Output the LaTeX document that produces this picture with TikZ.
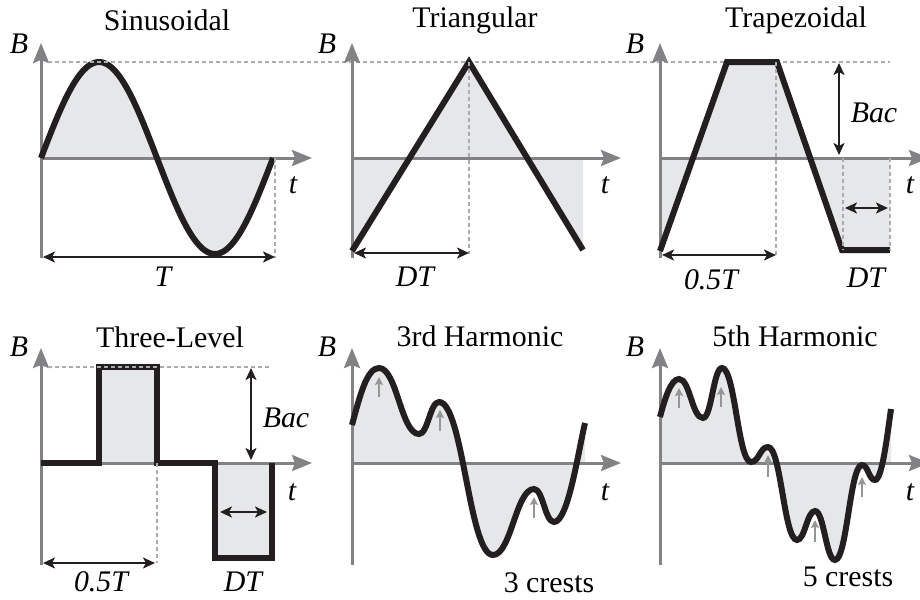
\documentclass[tikz,border=0pt]{standalone}
\usepackage{fontspec}
\setmainfont{Liberation Serif}[Ligatures=TeX]
\newfontfamily\timesface{Liberation Serif}
\usetikzlibrary{arrows.meta}
\definecolor{ink}{RGB}{35,31,32}
\definecolor{axgray}{RGB}{130,130,132}
\definecolor{dotgray}{RGB}{172,172,174}
\definecolor{areagray}{RGB}{230,231,233}
\newcommand{\harmthree}{.. controls +(8,30) and +(-12,0) .. (27,95)
  .. controls +(18,0) and +(-18,0) .. (67,29)
  .. controls +(9,0) and +(-9,0) .. (87,61)
  .. controls +(24,0) and +(-24,0) .. (141,-92)
  .. controls +(18,0) and +(-18,0) .. (182,-26)
  .. controls +(9,0) and +(-9,0) .. (202,-59)
  .. controls +(14,0) and +(-7,-30) .. (233,40)}
\newcommand{\harmfive}{.. controls +(5,19) and +(-8,0) .. (19,84)
  .. controls +(11,0) and +(-11,0) .. (43,45)
  .. controls +(8.5,0) and +(-8.5,0) .. (62,95)
  .. controls +(13,0) and +(-13,0) .. (91,1)
  .. controls +(8,0) and +(-8,0) .. (108,16)
  .. controls +(13,0) and +(-13,0) .. (137,-77)
  .. controls +(8,0) and +(-8,0) .. (155,-48)
  .. controls +(9,0) and +(-9,0) .. (175,-97)
  .. controls +(12,0) and +(-12,0) .. (202,-2)
  .. controls +(6,0) and +(-6,0) .. (215,-17)
  .. controls +(7,0) and +(-4,-28) .. (231,54)}
\begin{document}
\begin{tikzpicture}[x=0.2mm, y=0.2mm,
    every node/.style={inner sep=0pt, font=\timesface\fontsize{17}{20}\selectfont},
    varlabel/.style={font=\timesface\fontsize{17}{20}\selectfont\itshape},
    axisarrow/.style={draw=axgray, line width=0.6mm, -{Stealth[length=4mm, width=3.2mm, inset=0.6mm]}},
    waveline/.style={draw=ink, line width=1.2mm},
    guideline/.style={draw=dotgray, line width=0.5mm, dash pattern=on 0.8mm off 0.6mm},
    dimarrow/.style={draw=ink, line width=0.45mm, {Stealth[length=2.4mm, width=2.2mm, inset=0.6mm]}-{Stealth[length=2.4mm, width=2.2mm, inset=0.6mm]}},
    crestarrow/.style={draw=axgray!85, line width=0.4mm, -{Stealth[length=1.6mm, width=1.6mm, inset=0.3mm]}},
    areafill/.style={fill=areagray}]
    \useasboundingbox (0,0) rectangle (920,599);

    \begin{scope}[shift={(41,441)}]
        \fill[areafill] (0,0) -- plot[domain=0:232, samples=90] (\x,{96*sin(\x/232*360)}) -- cycle;
        \draw[axisarrow] (0,-100) -- (0,115);
        \draw[axisarrow] (0,0) -- (271,0);
        \draw[waveline] plot[domain=0:232, samples=90, smooth] (\x,{96*sin(\x/232*360)});
        \draw[guideline] (7,96) -- (849,96);
        \draw[guideline] (234,0) -- (234,-100);
        \draw[dimarrow] (2,-99) -- (234,-99);
        \node (sinTitle) at (126,138) {Sinusoidal};
        \node[varlabel] (sinB) at (-22,114) {B};
        \node[varlabel] (sint) at (252,-27) {t};
        \node[varlabel] (sinT) at (122,-119) {T};
    \end{scope}

    \begin{scope}[shift={(352,441)}]
        \fill[areafill] (0,0) -- (0,-93) -- (117,96) -- (231,-92) -- (231,0) -- cycle;
        \draw[axisarrow] (0,-100) -- (0,115);
        \draw[axisarrow] (0,0) -- (269,0);
        \draw[waveline] (0,-93) -- (117,96) -- (231,-92);
        \draw[guideline] (117,96) -- (117,-96);
        \draw[dimarrow] (2,-95) -- (117,-95);
        \node (triTitle) at (123,138) {Triangular};
        \node[varlabel] (triB) at (-25,114) {B};
        \node[varlabel] (trit) at (253,-27) {t};
        \node[varlabel] (triDT) at (63,-119) {DT};
    \end{scope}

    \begin{scope}[shift={(660,441)}]
        \fill[areafill] (0,0) -- (0,-93) -- (67,96) -- (117,96) -- (182,-92) -- (230,-92) -- (230,0) -- cycle;
        \draw[axisarrow] (0,-100) -- (0,115);
        \draw[axisarrow] (0,0) -- (269,0);
        \draw[waveline] (0,-93) -- (67,96) -- (117,96) -- (182,-92) -- (230,-92);
        \draw[guideline] (116,96) -- (116,-97);
        \draw[guideline] (183,0) -- (183,-92);
        \draw[guideline] (230,0) -- (230,-92);
        \draw[dimarrow] (2,-97) -- (116,-97);
        \draw[dimarrow] (179,95) -- (179,3);
        \draw[dimarrow] (185,-50) -- (228,-50);
        \node (trapTitle) at (136,138) {Trapezoidal};
        \node[varlabel] (trapB) at (-25,114) {B};
        \node[varlabel] (trapt) at (250,-27) {t};
        \node[varlabel] (trapHalf) at (51,-122) {0.5T};
        \node[varlabel] (trapDT) at (206,-120) {DT};
        \node[varlabel] (trapBac) at (214,45) {Bac};
    \end{scope}

    \begin{scope}[shift={(41,136)}]
        \fill[areafill] (58,0) rectangle (116,96);
        \fill[areafill] (174,0) rectangle (231,-95);
        \draw[axisarrow] (0,-102) -- (0,115);
        \draw[axisarrow] (0,0) -- (271,0);
        \draw[waveline] (0,0) -- (58,0) -- (58,96) -- (116,96) -- (116,0) -- (174,0) -- (174,-95) -- (231,-95) -- (231,0);
        \draw[guideline] (7,96) -- (231,96);
        \draw[guideline] (116,0) -- (116,-100);
        \draw[dimarrow] (2,-100) -- (114,-100);
        \draw[dimarrow] (210,95) -- (210,3);
        \draw[dimarrow] (179,-49) -- (226,-49);
        \node (lvlTitle) at (129,126) {Three-Level};
        \node[varlabel] (lvlB) at (-22,116) {B};
        \node[varlabel] (lvlt) at (251,-29) {t};
        \node[varlabel] (lvlBac) at (245,45) {Bac};
        \node[varlabel] (lvlHalf) at (60,-119) {0.5T};
        \node[varlabel] (lvlDT) at (202,-119) {DT};
    \end{scope}

    \begin{scope}[shift={(352,136)}]
        \fill[areafill] (0,0) -- (0,38) \harmthree -- (233,0) -- cycle;
        \draw[axisarrow] (0,-102) -- (0,115);
        \draw[axisarrow] (0,0) -- (269,0);
        \draw[crestarrow] (27,66) -- (27,86);
        \draw[crestarrow] (88,32) -- (88,53);
        \draw[crestarrow] (182,-55) -- (182,-34);
        \draw[waveline] (0,38) \harmthree;
        \node (thirdTitle) at (128,127) {3rd Harmonic};
        \node[varlabel] (thirdB) at (-25,116) {B};
        \node[varlabel] (thirdt) at (253,-29) {t};
        \node (thirdCrests) at (197,-120) {3 crests};
    \end{scope}

    \begin{scope}[shift={(660,136)}]
        \fill[areafill] (0,0) -- (0,46) \harmfive -- (231,0) -- cycle;
        \draw[axisarrow] (0,-102) -- (0,115);
        \draw[axisarrow] (0,0) -- (269,0);
        \draw[crestarrow] (19,55) -- (19,75);
        \draw[crestarrow] (61,56) -- (61,76);
        \draw[crestarrow] (108,-14) -- (108,8);
        \draw[crestarrow] (155,-79) -- (155,-57);
        \draw[crestarrow] (202,-34) -- (202,-14);
        \draw[waveline] (0,46) \harmfive;
        \node (fifthTitle) at (135,127) {5th Harmonic};
        \node[varlabel] (fifthB) at (-25,116) {B};
        \node[varlabel] (fiftht) at (250,-29) {t};
        \node (fifthCrests) at (188,-114) {5 crests};
    \end{scope}
\end{tikzpicture}
\end{document}
